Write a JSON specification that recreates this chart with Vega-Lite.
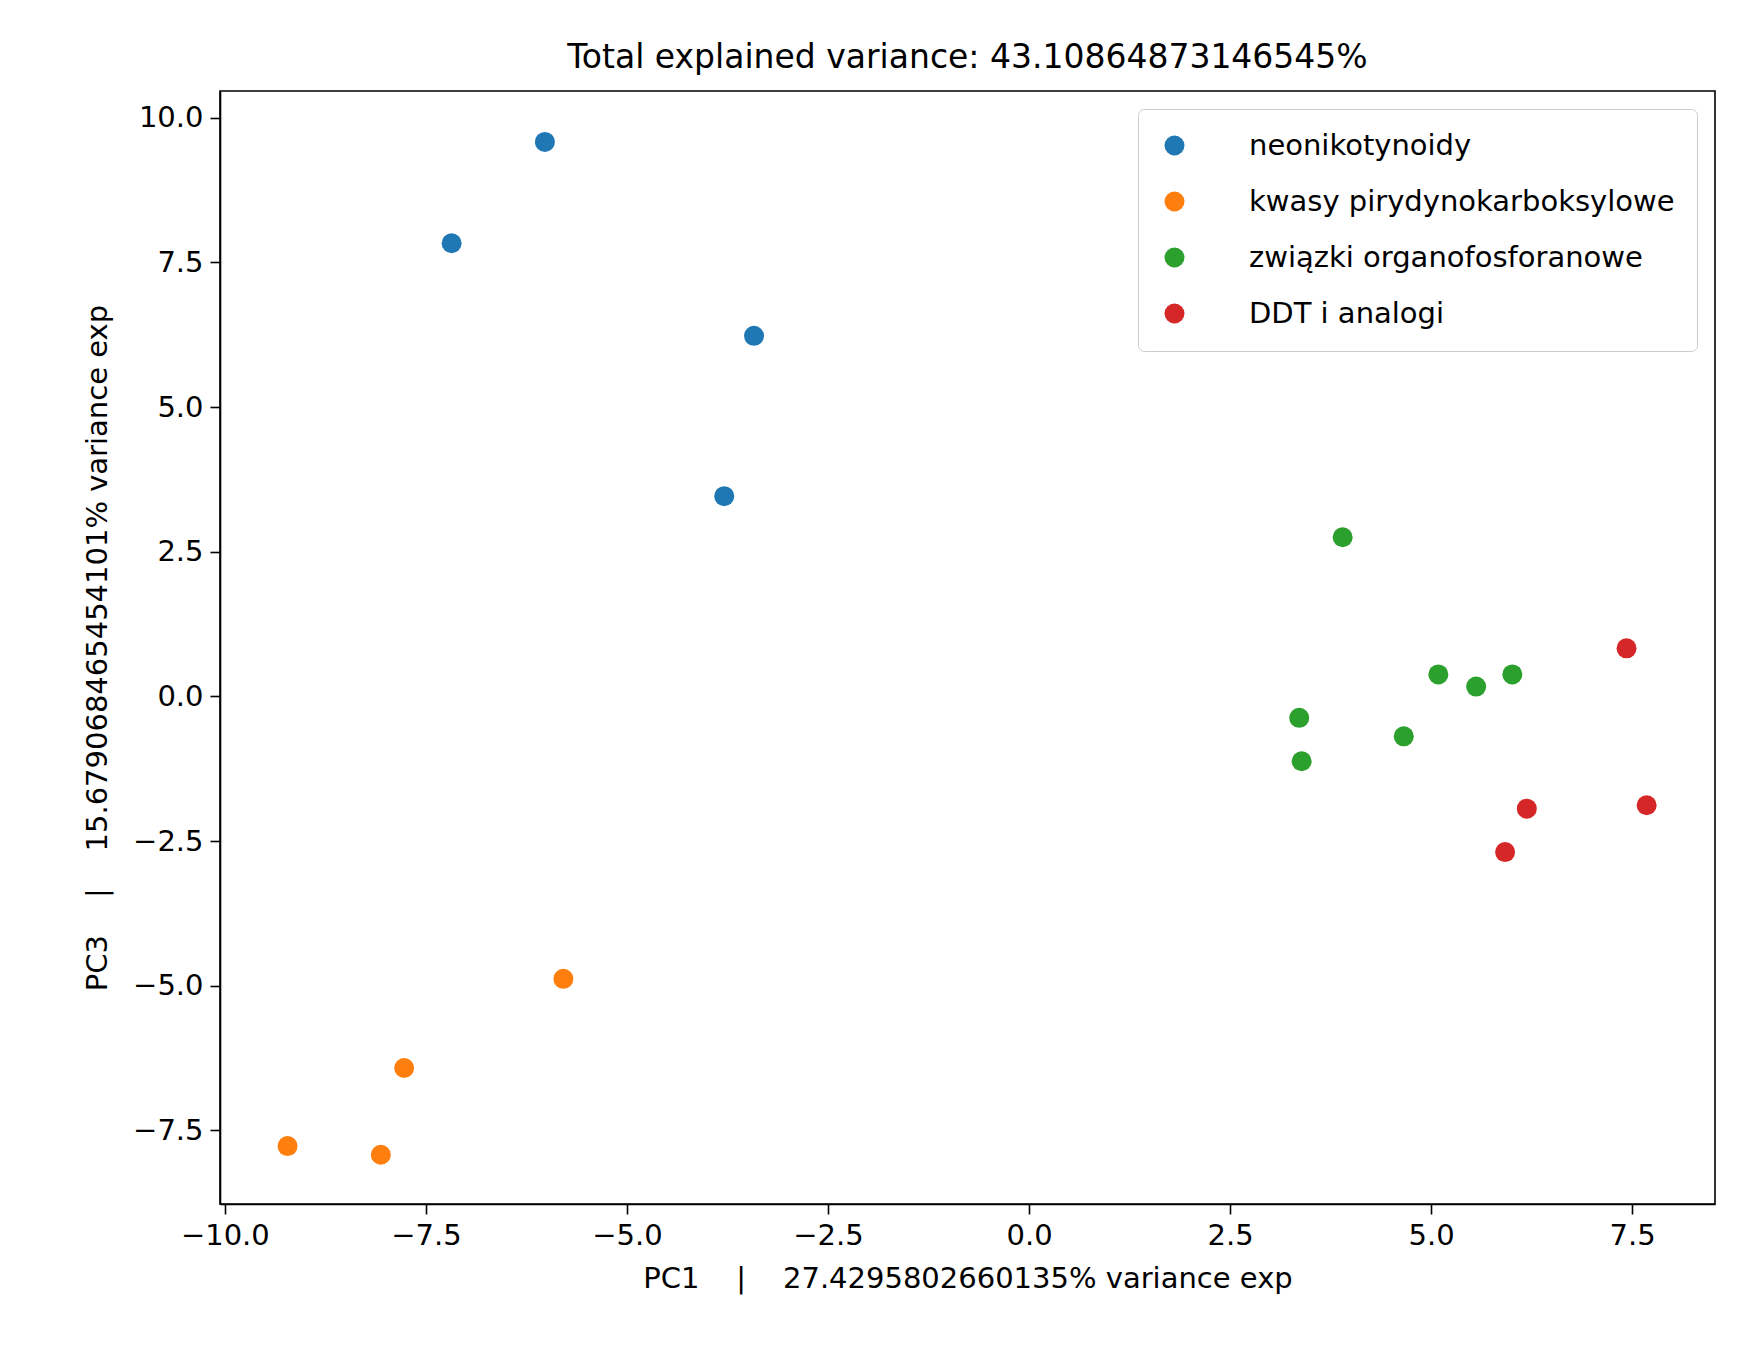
{
  "$schema": "https://vega.github.io/schema/vega-lite/v6.json",
  "width": 1495,
  "height": 1113,
  "autosize": {"type": "none"},
  "padding": {"left": 220, "top": 91, "right": 22, "bottom": 158},
  "background": "white",
  "title": {"text": "Total explained variance: 43.10864873146545%", "fontSize": 33, "font": "DejaVu Sans", "fontWeight": "normal", "offset": 16, "color": "black"},
  "data": {"values": [
    {"pc1": -6.02, "pc3": 9.58, "group": "neonikotynoidy"},
    {"pc1": -7.18, "pc3": 7.83, "group": "neonikotynoidy"},
    {"pc1": -3.42, "pc3": 6.23, "group": "neonikotynoidy"},
    {"pc1": -3.79, "pc3": 3.46, "group": "neonikotynoidy"},
    {"pc1": -5.79, "pc3": -4.88, "group": "kwasy pirydynokarboksylowe"},
    {"pc1": -7.77, "pc3": -6.42, "group": "kwasy pirydynokarboksylowe"},
    {"pc1": -9.22, "pc3": -7.77, "group": "kwasy pirydynokarboksylowe"},
    {"pc1": -8.06, "pc3": -7.92, "group": "kwasy pirydynokarboksylowe"},
    {"pc1": 3.90, "pc3": 2.75, "group": "związki organofosforanowe"},
    {"pc1": 5.09, "pc3": 0.38, "group": "związki organofosforanowe"},
    {"pc1": 5.56, "pc3": 0.17, "group": "związki organofosforanowe"},
    {"pc1": 6.01, "pc3": 0.38, "group": "związki organofosforanowe"},
    {"pc1": 3.36, "pc3": -0.37, "group": "związki organofosforanowe"},
    {"pc1": 4.66, "pc3": -0.69, "group": "związki organofosforanowe"},
    {"pc1": 3.39, "pc3": -1.12, "group": "związki organofosforanowe"},
    {"pc1": 7.43, "pc3": 0.83, "group": "DDT i analogi"},
    {"pc1": 7.68, "pc3": -1.88, "group": "DDT i analogi"},
    {"pc1": 6.19, "pc3": -1.94, "group": "DDT i analogi"},
    {"pc1": 5.92, "pc3": -2.69, "group": "DDT i analogi"}
  ]},
  "mark": {"type": "circle", "size": 400, "opacity": 1},
  "encoding": {
    "x": {"field": "pc1", "type": "quantitative", "title": "PC1\u00a0\u00a0\u00a0\u00a0|\u00a0\u00a0\u00a0\u00a027.4295802660135% variance exp",
      "scale": {"domain": [-10.06, 8.53], "nice": false, "zero": false},
      "axis": {"values": [-10, -7.5, -5, -2.5, 0, 2.5, 5, 7.5], "format": ".1f", "grid": false}},
    "y": {"field": "pc3", "type": "quantitative", "title": "PC3\u00a0\u00a0\u00a0\u00a0|\u00a0\u00a0\u00a0\u00a015.679068465454101% variance exp",
      "scale": {"domain": [-8.77, 10.46], "nice": false, "zero": false},
      "axis": {"values": [-7.5, -5, -2.5, 0, 2.5, 5, 7.5, 10], "format": ".1f", "grid": false}},
    "color": {"field": "group", "type": "nominal", "title": null,
      "scale": {"domain": ["neonikotynoidy", "kwasy pirydynokarboksylowe", "związki organofosforanowe", "DDT i analogi"],
        "range": ["#1f77b4", "#ff7f0e", "#2ca02c", "#d62728"]},
      "legend": {"orient": "top-right", "offsetX": 20, "offsetY": 22, "padding": 22, "fillColor": "white", "strokeColor": "#cccccc",
        "cornerRadius": 6, "labelFontSize": 29, "labelFont": "DejaVu Sans", "labelColor": "black", "symbolSize": 400, "symbolType": "circle",
        "rowPadding": 26, "labelOffset": 60, "labelLimit": 800}}
  },
  "config": {
    "view": {"stroke": "black", "strokeWidth": 1.6},
    "axis": {"labelFontSize": 29, "titleFontSize": 29, "labelFont": "DejaVu Sans", "titleFont": "DejaVu Sans", "titleFontWeight": "normal",
      "labelColor": "black", "titleColor": "black", "tickColor": "black", "domainColor": "black", "tickSize": 10, "tickWidth": 1.6, "domainWidth": 1.6, "labelPadding": 7},
    "axisX": {"titlePadding": 14},
    "axisY": {"titlePadding": 20}
  }
}
